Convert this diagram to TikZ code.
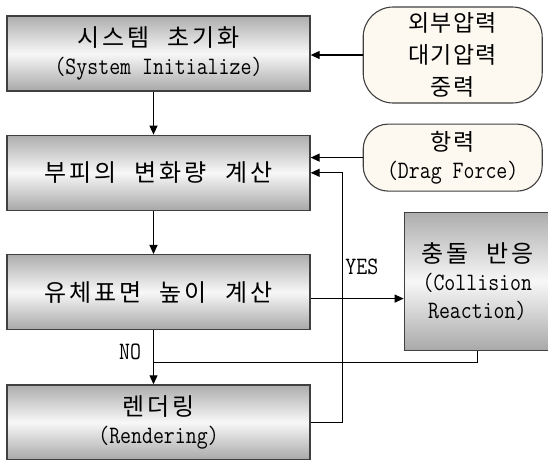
\documentclass[tikz,border=0pt]{standalone}
\usepackage{fontspec}
\usepackage{tikz}
\usetikzlibrary{arrows.meta,positioning}
\newfontfamily\krfont{Noto Sans CJK KR}[LetterSpace=12,WordSpace=2.2]
\newfontfamily\krtight{Noto Sans CJK KR}[LetterSpace=5]
\newfontfamily\enfont{Latin Modern Mono}[FakeStretch=0.85]
\definecolor{cream}{RGB}{253,248,240}
\definecolor{edge}{RGB}{64,64,64}
\newcommand{\kr}[1]{{\krfont\fontsize{24}{28}\selectfont #1}}
\newcommand{\krs}[1]{{\krtight\fontsize{23}{28}\selectfont #1}}
\newcommand{\en}[1]{{\enfont\fontsize{25}{28}\selectfont #1}}

\begin{document}
\begin{tikzpicture}[
  procbox/.style={rectangle, draw=edge, line width=1.3pt,
              minimum width=303pt, minimum height=75pt, inner sep=0pt,
              top color=black!32, bottom color=black!34, middle color=black!3,
              align=center, font=\fontsize{22}{28}\selectfont},
  extbox/.style={rectangle, draw=edge, line width=1.1pt, fill=cream,
              rounded corners=30pt, minimum width=179pt, inner sep=0pt,
              align=center, font=\fontsize{22}{28}\selectfont},
  lbl/.style={font=\enfont\fontsize{25}{28}\selectfont, inner sep=0pt},
  arr/.style={-{Triangle[length=9pt,width=8pt]}, line width=1.1pt},
  link/.style={line width=1.1pt}
]
  \useasboundingbox (0,0) rectangle (548pt,-459pt);
  \clip (0,0) rectangle (548pt,-459pt);

  \node[procbox] (init) at (158.5pt,-53.5pt)
    {\kr{시스템 초기화}\\\en{(System Initialize)}};
  \node[procbox, below=43pt of init] (vol)
    {\kr{부피의 변화량 계산}};
  \node[procbox, below=43pt of vol] (surf)
    {\kr{유체표면 높이 계산}};
  \node[procbox, below=54pt of surf] (render)
    {\kr{렌더링}\\\en{(Rendering)}};
  \node[extbox, minimum height=96pt, right=52pt of init, yshift=-1.5pt] (ext)
    {\krs{외부압력}\\[4pt]\krs{대기압력}\\[4pt]\krs{중력}};
  \node[extbox, rounded corners=25pt, minimum height=67pt, below=20pt of ext] (drag)
    {\krs{항력}\\\en{(Drag Force)}};
  \node[procbox, minimum width=146pt, minimum height=138pt,
        right=93pt of surf, yshift=10.5pt] (coll)
    {\kr{충돌 반응}\\\en{(Collision}\\\en{Reaction)}};

  \draw[arr] (ext.west) -- (ext.west -| init.east);
  \draw[arr] (drag.west) -- (drag.west -| vol.east);
  \draw[arr] ([xshift=-5pt]init.south) -- ([xshift=-5pt]vol.north);
  \draw[arr] ([xshift=-5pt]vol.south) -- ([xshift=-5pt]surf.north);
  \draw[arr] ([xshift=-5pt]surf.south) -- ([xshift=-5pt]render.north)
    node[lbl, pos=0.4, left=12pt] {NO};
  \coordinate (merge) at ([xshift=-5pt,yshift=-32pt]surf.south);
  \draw[link] (coll.south) |- (merge);
  \draw[arr] ([yshift=-6.5pt]surf.east) -- ([yshift=-6.5pt]surf.east -| coll.west)
    node[lbl, pos=0.55, above=23pt] {YES};
  \draw[arr] (render.east) -- ++(32pt,0) |- (vol.east);
\end{tikzpicture}
\end{document}
